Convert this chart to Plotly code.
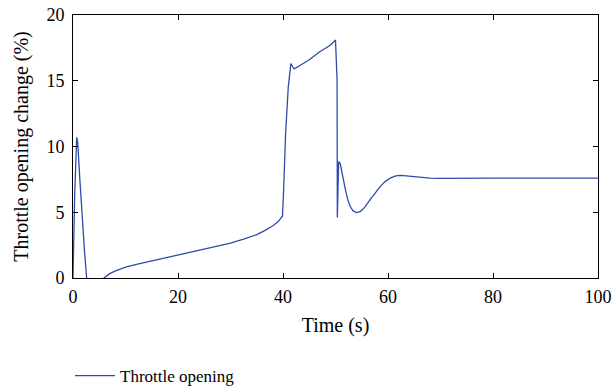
import plotly.graph_objects as go

time_s = [0, 0.05, 0.3, 0.7, 0.9, 1.3, 1.8, 2.2, 2.6, 3.0, 4.0, 5.0, 5.9,
          6.5, 7.0, 8.0, 9.0, 10.0, 12.5, 15.0, 17.5, 20.0, 22.5, 25.0, 27.5, 30.0, 32.5, 35.0,
          36.5, 38.0, 39.0, 39.9, 40.1, 40.5, 41.0, 41.5, 41.8, 42.1, 43.0, 45.0, 47.0, 49.0, 50.0,
          50.2, 50.3, 50.35, 50.6, 50.9, 51.3, 51.8, 52.3, 52.8, 53.3, 54.0, 54.7, 55.5, 56.5,
          57.5, 58.5, 59.5, 60.5, 61.5, 62.3, 63.5, 65.0, 66.5, 68.0, 70.0, 75.0, 80.0, 90.0, 100.0]
throttle = [0, 1.0, 6.0, 10.7, 10.3, 7.5, 4.2, 2.0, 0.0, -0.5, -0.9, -0.6, 0.0,
            0.2, 0.33, 0.52, 0.68, 0.82, 1.07, 1.3, 1.52, 1.75, 1.95, 2.17, 2.4, 2.65, 2.95, 3.3,
            3.6, 3.95, 4.25, 4.7, 6.5, 11.0, 14.5, 16.3, 16.1, 15.9, 16.1, 16.6, 17.2, 17.7, 18.1,
            15.0, 15.0, 4.6, 8.85, 8.7, 8.0, 6.9, 6.0, 5.45, 5.12, 4.97, 5.05, 5.35, 5.9,
            6.45, 6.95, 7.35, 7.62, 7.76, 7.8, 7.77, 7.7, 7.64, 7.6, 7.58, 7.6, 7.6, 7.6, 7.6]

x_ticks = [0, 20, 40, 60, 80, 100]
y_ticks = [0, 5, 10, 15, 20]

font_family = "Liberation Serif, DejaVu Serif, serif"

fig = go.Figure()
fig.add_trace(go.Scatter(x=time_s, y=throttle, mode="lines", name="Throttle opening",
                         line=dict(color="#2e4bab", width=1.3)))

axis_common = dict(showline=True, linecolor="black", linewidth=1, mirror="ticks",
                   ticks="inside", ticklen=5, tickcolor="black", showgrid=False,
                   zeroline=False, automargin=False,
                   tickfont=dict(size=18, color="black"))

fig.update_layout(
    width=612, height=391,
    margin=dict(l=73, r=14, t=15, b=113, autoexpand=False),
    paper_bgcolor="white", plot_bgcolor="white",
    font=dict(family=font_family, size=17, color="black"),
    xaxis=dict(range=[0, 100], tickvals=x_ticks, ticklabelstandoff=2,
               title=dict(text="Time (s)", standoff=12), **axis_common),
    yaxis=dict(range=[0, 20], tickvals=y_ticks, ticklabelstandoff=4,
               title=dict(text="Throttle opening change (%)", standoff=12), **axis_common),
    showlegend=True,
    legend=dict(x=-0.0057, y=-0.3726, xanchor="left", yanchor="middle", itemwidth=40,
                bgcolor="rgba(0,0,0,0)", font=dict(size=17)),
)

fig.write_html("out.html", config={"displayModeBar": False},
               post_script="document.body.style.margin='0px';document.body.style.overflow='hidden';")
